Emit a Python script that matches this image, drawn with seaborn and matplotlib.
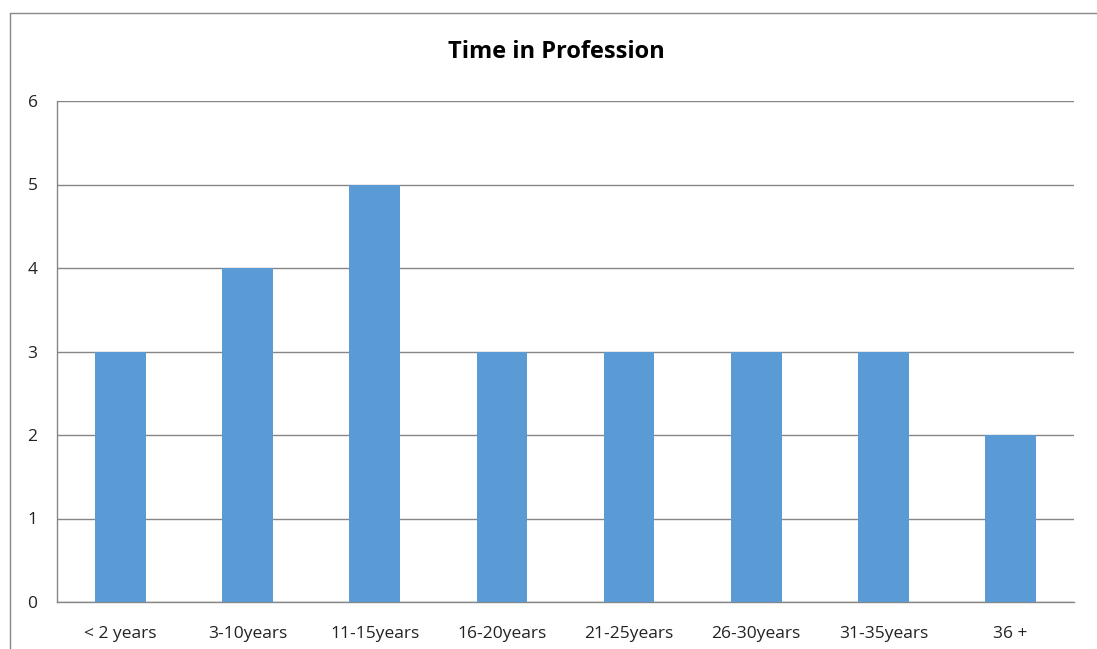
import matplotlib
matplotlib.use("Agg")
import matplotlib.pyplot as plt
import seaborn as sns
import pandas as pd
from matplotlib.lines import Line2D

categories = ["< 2 years", "3-10years", "11-15years", "16-20years",
              "21-25years", "26-30years", "31-35years", "36 +"]
values = [3, 4, 5, 3, 3, 3, 3, 2]
yticks = [0, 1, 2, 3, 4, 5, 6]
title = "Time in Profession"

sns.set_theme(style="white")
plt.rcParams['font.family'] = ['Open Sans', 'DejaVu Sans']

df = pd.DataFrame({"cat": categories, "val": values})

fig = plt.figure(figsize=(10.97, 6.49), dpi=100)
ax = fig.add_axes([57/1097, 1 - 602/649, (1074 - 57)/1097, (602 - 101)/649])

sns.barplot(data=df, x="cat", y="val", color="#5B9BD5", width=0.4,
            saturation=1, ax=ax, zorder=3, linewidth=0, edgecolor="none")

ax.set_ylim(0, 6)
ax.set_xlim(-0.5, len(categories) - 0.5)
ax.set_yticks(yticks)
ax.set_yticklabels([str(t) for t in yticks], fontsize=12.5, color="#222222")
ax.tick_params(axis="x", labelsize=12.5, colors="#222222", length=0, pad=17)
ax.tick_params(axis="y", length=0, pad=14)
ax.set_xlabel("")
ax.set_ylabel("")
ax.yaxis.grid(True, color="#868686", linewidth=1)
ax.set_axisbelow(True)
for s in ["top", "right"]:
    ax.spines[s].set_visible(False)
for s in ["left", "bottom"]:
    ax.spines[s].set_color("#868686")
    ax.spines[s].set_linewidth(1)

fig.text(556/1097, 1 - 52/649, title, ha="center", va="center",
         fontsize=17, fontweight="bold", color="#000000")

# chart outer border (left and top visible)
fig.add_artist(Line2D([9.5/1097, 9.5/1097], [0, 1 - 12.5/649],
                      transform=fig.transFigure, color="#888888", linewidth=1))
fig.add_artist(Line2D([9.5/1097, 1], [1 - 12.5/649, 1 - 12.5/649],
                      transform=fig.transFigure, color="#888888", linewidth=1))

fig.savefig("out.png", dpi=100)
